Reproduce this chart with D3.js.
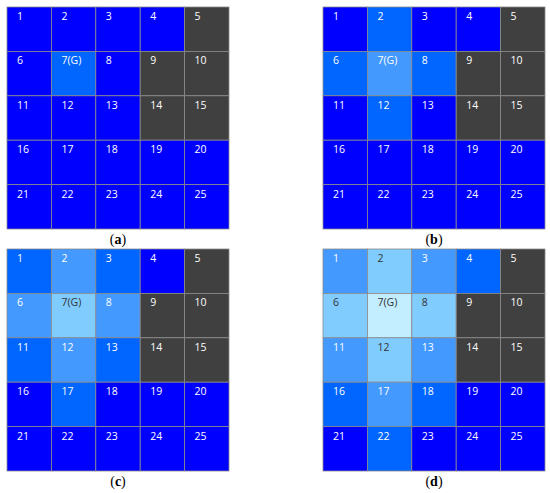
<!DOCTYPE html>
<html>
<head>
<meta charset="utf-8">
<script src="https://d3js.org/d3.v7.min.js"></script>
<style>
  body { margin: 0; background: #fff; }
</style>
</head>
<body>
<div id="chart"></div>
<script>
// cell labels, row by row
var cellLabels = ["1","2","3","4","5","6","7(G)","8","9","10","11","12","13","14","15",
                  "16","17","18","19","20","21","22","23","24","25"];
// level per cell: -1 = obstacle (dark), 0..4 = lighter blues
var levelsA = [0,0,0,0,-1, 0,1,0,-1,-1, 0,0,0,-1,-1, 0,0,0,0,0, 0,0,0,0,0];
var levelsB = [0,1,0,0,-1, 1,2,1,-1,-1, 0,1,0,-1,-1, 0,0,0,0,0, 0,0,0,0,0];
var levelsC = [1,2,1,0,-1, 2,3,2,-1,-1, 1,2,1,-1,-1, 0,1,0,0,0, 0,0,0,0,0];
var levelsD = [2,3,2,1,-1, 3,4,3,-1,-1, 2,3,2,-1,-1, 1,2,1,0,0, 0,1,0,0,0];
var panelNames = ["a","b","c","d"];

var width = 550, height = 493;
var gridSize = 222;
var panelPos = [[7,7],[323,7],[7,249],[323,249]];

var svg = d3.select("#chart").append("svg")
    .attr("width", width)
    .attr("height", height);

var color = d3.scaleOrdinal()
    .domain([-1,0,1,2,3,4])
    .range(["#404040","#0000ff","#0066ff","#4499ff","#80ccff","#c2eeff"]);

var textColor = function(l){ return l >= 3 ? "#333" : "#fff"; };

var x = d3.scaleBand().domain(d3.range(5)).range([0, gridSize]);
var y = d3.scaleBand().domain(d3.range(5)).range([0, gridSize]);

[levelsA, levelsB, levelsC, levelsD].forEach(function(levels, p){
  var g = svg.append("g")
      .attr("transform", "translate(" + panelPos[p][0] + "," + panelPos[p][1] + ")");

  var cells = g.selectAll("g.cell")
    .data(levels.map(function(l, i){ return {level: l, i: i, label: cellLabels[i]}; }))
    .enter().append("g")
      .attr("class", "cell")
      .attr("transform", function(d){ return "translate(" + x(d.i % 5) + "," + y(Math.floor(d.i / 5)) + ")"; });

  cells.append("rect")
    .attr("width", x.bandwidth())
    .attr("height", y.bandwidth())
    .attr("fill", function(d){ return color(d.level); })
    .attr("stroke", "#8a8a8a")
    .attr("stroke-width", 0.8);

  cells.append("text")
    .attr("x", 10)
    .attr("y", 13)
    .attr("fill", function(d){ return textColor(d.level); })
    .style("font-family", "'Open Sans', 'Noto Sans', sans-serif")
    .style("font-size", "10.5px")
    .text(function(d){ return d.label; });

  // caption under each grid
  var cap = svg.append("text")
    .attr("x", panelPos[p][0] + gridSize / 2)
    .attr("y", panelPos[p][1] + gridSize + 15)
    .attr("text-anchor", "middle")
    .style("font-family", "'Liberation Serif', 'DejaVu Serif', serif")
    .style("font-size", "14px")
    .attr("fill", "#000");
  cap.append("tspan").text("(");
  cap.append("tspan").style("font-weight", "bold").text(panelNames[p]);
  cap.append("tspan").text(")");
});
</script>
</body>
</html>
